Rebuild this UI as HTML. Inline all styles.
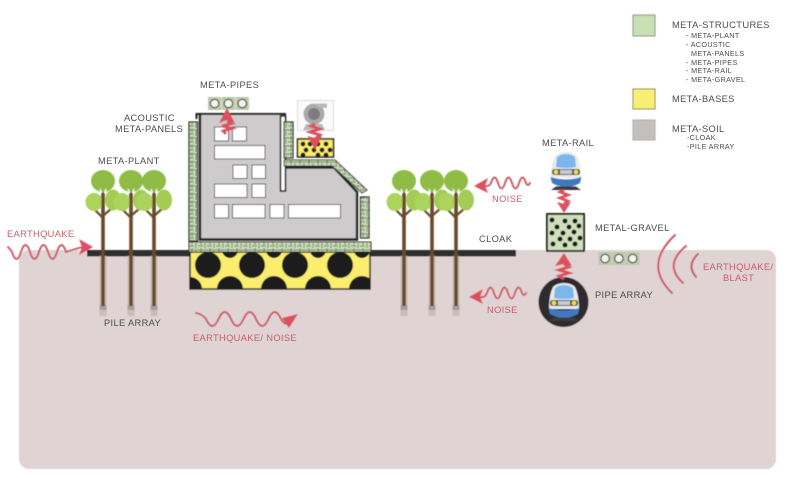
<!DOCTYPE html>
<html><head><meta charset="utf-8"><style>
html,body{margin:0;padding:0;background:#fff;width:792px;height:478px;overflow:hidden}
svg{display:block}
text{font-family:"Liberation Sans",sans-serif;font-size:9.3px;fill:#4d4d4d;letter-spacing:.35px}
.r{fill:#c9606a}
.s{font-size:7.2px;fill:#4d4d4d}
</style></head><body>
<svg width="792" height="478" viewBox="0 0 792 478" xmlns="http://www.w3.org/2000/svg">
<defs>
<filter id="b" x="-5%" y="-5%" width="110%" height="110%"><feGaussianBlur stdDeviation="0.45"/></filter>
<filter id="t" x="-5%" y="-5%" width="110%" height="110%"><feGaussianBlur stdDeviation="0.25"/></filter>
<pattern id="hatch" width="9" height="8" patternUnits="userSpaceOnUse">
<rect width="9" height="8" fill="#c9dcb6"/><path d="M0 2H9M3 0V5M7 3V8M0 6H5" stroke="#56634c" stroke-width=".7" fill="none"/>
</pattern>
<g id="tree">
<rect x="-3.500" y="6" width="7" height="60" fill="#c9bcb9"/>
<rect x="-3.500" y="55" width="7" height="5" fill="#a89c98"/>
<path d="M0 -58V56" stroke="#6b4a2c" stroke-width="3.600"/>
<path d="M-1 -33L-9 -41M1 -35L9 -42" stroke="#6b4a2c" stroke-width="2.200" fill="none"/>
<ellipse cx="0" cy="-69" rx="12" ry="11" fill="#8fbc45"/>
<ellipse cx="-9" cy="-48" rx="8.500" ry="9" fill="#acd35c"/>
<ellipse cx="10" cy="-50" rx="8" ry="10.500" fill="#a4cc55"/>
<path d="M-1 -56L-3 -61M1 -56L3 -61" stroke="#fff" stroke-width="1.200"/>
<path d="M0 -57V-40" stroke="#6b4a2c" stroke-width="3.200"/>
</g>
<g id="pipes">
<rect x="0" y="0" width="13.300" height="13" fill="#bcc9aa"/><rect x="13.800" y="0" width="13.300" height="13" fill="#bcc9aa"/><rect x="27.600" y="0" width="13.300" height="13" fill="#bcc9aa"/>
<circle cx="6.600" cy="6.500" r="4.200" fill="#f4f4ee" stroke="#2b2b2b" stroke-width="1.100"/><circle cx="20.400" cy="6.500" r="4.200" fill="#f4f4ee" stroke="#2b2b2b" stroke-width="1.100"/><circle cx="34.200" cy="6.500" r="4.200" fill="#f4f4ee" stroke="#2b2b2b" stroke-width="1.100"/>
</g>
<g id="train">
<path d="M-15 10Q-15 -4 -11 -12Q-7 -16 0 -16Q7 -16 11 -12Q15 -4 15 10Z" fill="#e9eaed"/>
<path d="M-10 -1L-9 -11Q-5 -14 0 -14Q5 -14 9 -11L10 -1Q0 1 -10 -1Z" fill="#7cb6ea"/>
<rect x="-14" y="1" width="28" height="6" rx="2.500" fill="#4a4e55"/>
<circle cx="-10" cy="4" r="2.300" fill="#f2e03a"/><circle cx="10" cy="4" r="2.300" fill="#f2e03a"/>
<rect x="-6" y="2" width="12" height="4" fill="#c8ccd2"/>
<path d="M-15.500 9Q0 14 15.500 9L14 15Q7 19 0 19Q-7 19 -14 15Z" fill="#3f78c0"/>
<path d="M-10 18.500H10L15 22H-15Z" fill="#3a3a3a"/>
</g>
</defs>
<g filter="url(#b)">
<rect x="19" y="250" width="757" height="219" rx="10" fill="#dfd3d3"/>
<rect x="87" y="250" width="429" height="6.500" fill="#2f2d2d"/>

<use href="#tree" x="103" y="250"/><use href="#tree" x="131" y="250"/><use href="#tree" x="154" y="250"/>
<use href="#tree" x="404" y="250"/><use href="#tree" x="432" y="250"/><use href="#tree" x="456" y="250"/>

<!-- base -->
<rect x="190" y="252" width="180" height="37" fill="#fbee6e" stroke="#1f1f1f" stroke-width="1.500"/>
<clipPath id="bc"><rect x="190" y="252" width="180" height="37"/></clipPath>
<g clip-path="url(#bc)" fill="#1b1b1b">
<circle cx="208" cy="265" r="13"/><circle cx="252" cy="265" r="13"/><circle cx="295" cy="265" r="13"/><circle cx="340" cy="265" r="13"/>
<circle cx="190" cy="289" r="12"/><circle cx="230" cy="289" r="13"/><circle cx="274" cy="289" r="13"/><circle cx="318" cy="289" r="13"/><circle cx="362" cy="289" r="13"/>
<circle cx="230" cy="250" r="8"/><circle cx="274" cy="250" r="8"/><circle cx="318" cy="250" r="8"/><circle cx="362" cy="250" r="8"/>
</g>
<rect x="189" y="242" width="182" height="10" fill="url(#hatch)" stroke="#222" stroke-width="1"/>

<!-- building -->
<path d="M200 115H281V191H285V167H334L356 192V239H200Z" fill="#cdcbcc"/>
<path d="M196.500 119V114H285V119" fill="none" stroke="#222" stroke-width="2"/>
<path d="M200 115V239.500H357V192L334 167.500H285" fill="none" stroke="#222" stroke-width="2.400"/>
<rect x="280.500" y="116" width="5" height="75" fill="#fff" stroke="#222" stroke-width="1.600"/>
<g fill="#fff" stroke="#555" stroke-width="1">
<rect x="214.500" y="127" width="14" height="14"/><rect x="232.500" y="127" width="14" height="14"/>
<rect x="214.500" y="145.500" width="50.500" height="13.500"/>
<rect x="233" y="165" width="14" height="13.500"/><rect x="252" y="165" width="13.500" height="13.500"/>
<rect x="214.500" y="184" width="32.500" height="13.500"/><rect x="252" y="184" width="13.500" height="13.500"/>
<rect x="214.500" y="204.500" width="14" height="13.500"/><rect x="232.500" y="204.500" width="32.500" height="13.500"/><rect x="270" y="204.500" width="14" height="13.500"/><rect x="288.500" y="204.500" width="52" height="13.500"/>
</g>
<g fill="url(#hatch)" stroke="#222" stroke-width="1.200">
<rect x="189" y="122" width="8.500" height="119"/>
<rect x="284" y="122" width="9" height="36"/>
<rect x="360.500" y="197" width="8.500" height="41"/>
</g>
<path d="M284 160H335L367 190L362 193L332 166H284Z" fill="url(#hatch)" stroke="#333" stroke-width="1"/>

<use href="#pipes" x="208" y="97"/>
<!-- fan -->
<rect x="297.500" y="100.500" width="36" height="30" fill="#fafafa" stroke="#ddd"/>
<circle cx="314" cy="114" r="10.500" fill="#a9a9ab"/><circle cx="314" cy="114" r="6" fill="#7d7d80"/>
<path d="M314 103.500H327V108H320ZM306 124H322L325 130H303Z" fill="#b8b8ba"/>
<!-- yellow gravel top -->
<rect x="297.500" y="139" width="36" height="18" fill="#fbee6e" stroke="#1f1f1f" stroke-width="1.500"/>
<g fill="#1b1b1b"><circle cx="303" cy="144" r="2.400"/><circle cx="310" cy="144" r="2.400"/><circle cx="318" cy="144" r="2.400"/><circle cx="326" cy="144" r="2.400"/><circle cx="306" cy="150" r="2.400"/><circle cx="314" cy="150" r="2.400"/><circle cx="322" cy="150" r="2.400"/><circle cx="330" cy="150" r="2.400"/><circle cx="303" cy="155" r="2.400"/><circle cx="318" cy="155" r="2.400"/><circle cx="326" cy="155" r="2.400"/></g>

<!-- gravel -->
<rect x="547" y="214" width="37" height="37" fill="#cfe0bb" stroke="#111" stroke-width="1.800"/>
<g fill="#161616"><circle cx="552" cy="220" r="2.500"/><circle cx="565" cy="221" r="2.500"/><circle cx="575" cy="221" r="2.500"/><circle cx="557" cy="227" r="2.500"/><circle cx="569" cy="227" r="2.500"/><circle cx="579" cy="226" r="2.500"/><circle cx="552" cy="233" r="2.500"/><circle cx="563" cy="233" r="2.500"/><circle cx="574" cy="232" r="2.500"/><circle cx="560" cy="239" r="2.500"/><circle cx="570" cy="239" r="2.500"/><circle cx="580" cy="238" r="2.500"/><circle cx="553" cy="244" r="2.500"/><circle cx="565" cy="245" r="2.500"/><circle cx="575" cy="244" r="2.500"/></g>

<!-- trains -->
<use href="#train" x="566" y="168"/>
<circle cx="563.500" cy="302" r="25" fill="#2e2c2d"/>
<use href="#train" x="564" y="299"/>
<use href="#pipes" x="598.500" y="252"/>

<!-- red vertical arrows -->
<g fill="none" stroke="#dc505d" stroke-width="2.800">
<path d="M226 134L223 131L232 128.500L222 126L232 123.500L227 121"/>
<path d="M315 124L311 126L320 129L310 132L320 135L315 139"/>
<path d="M564 190L560 192L568 195L560 198L568 201L564 204"/>
<path d="M564 279L559 276L569 273L559 270L569 267L564 264"/>
</g>
<path d="M227 108L219 123L227 120L235 123Z" fill="#dc505d"/>
<path d="M315 150L307.500 136L315 138L322 136Z" fill="#dc505d"/>
<path d="M564 213L557 202L564 204L571 202Z" fill="#dc505d"/>
<path d="M564 253L555 266L564 264L572 266Z" fill="#dc505d"/>

<!-- waves -->
<g fill="none" stroke="#cf5560" stroke-width="1.900" stroke-linecap="round">
<path d="M8 247Q10 249 12 252q4.500 14 9 0t9 0t9 0t9 0t9 0t9 0Q78 248 83 247"/>
<path d="M484 186Q489 187 491 183q3.500 -11 7 0t7 0t7 0t7 0t7 0Q528 187 530 183"/>
<path d="M480 297Q485 298 487 293q3.500 -11 7 0t7 0t7 0t7 0t7 0Q524 297 526 293"/>
<path d="M196 313Q202 314 206 319q6.250 14 12.500 0t12.500 0t12.500 0t12.500 0t12.500 0t12.500 0Q285 327 291 321"/>
</g>
<path d="M93 247L79 239L82 247L79 255Z" fill="#dc505d"/>
<path d="M474 186L488 178L485 186L488 193Z" fill="#dc505d"/>
<path d="M469 297L483 289L480 297L483 304Z" fill="#dc505d"/>
<path d="M298 314L282 318L284 321L289 328Z" fill="#dc505d"/>
<g fill="none" stroke="#cf5560" stroke-width="2" stroke-linecap="round">
<path d="M675 235Q643 265 672 293"/>
<path d="M686 246Q663 265 683 283"/>
<path d="M698 254Q686 265 696 277"/>
</g>

<!-- legend -->
<rect x="633" y="15" width="22" height="21" fill="#c9dfb4" stroke="#8a9484" stroke-width="1"/>
<rect x="633" y="89" width="22" height="20" fill="#f8ef72" stroke="#8c8a5a" stroke-width="1"/>
<rect x="633" y="120" width="22" height="20" fill="#c3c0bc" stroke="#b0aeaa" stroke-width="1"/>
</g>

<g filter="url(#t)">
<text x="672" y="28" style="font-size:9.400px">META-STRUCTURES</text>
<text class="s" x="686" y="38">- META-PLANT</text>
<text class="s" x="686" y="47">- ACOUSTIC</text>
<text class="s" x="691" y="56">META-PANELS</text>
<text class="s" x="686" y="65">- META-PIPES</text>
<text class="s" x="686" y="73">- META-RAIL</text>
<text class="s" x="686" y="82">- META-GRAVEL</text>
<text x="672" y="102">META-BASES</text>
<text x="672" y="132">META-SOIL</text>
<text class="s" x="687" y="140">-CLOAK</text>
<text class="s" x="687" y="149">-PILE ARRAY</text>

<text x="200" y="88">META-PIPES</text>
<text x="124" y="121">ACOUSTIC</text>
<text x="115" y="132">META-PANELS</text>
<text x="98" y="164">META-PLANT</text>
<text x="542" y="146">META-RAIL</text>
<text x="595" y="231">METAL-GRAVEL</text>
<text x="595" y="298">PIPE ARRAY</text>
<text x="479" y="242">CLOAK</text>
<text x="104" y="326">PILE ARRAY</text>
<text class="r" x="7" y="237">EARTHQUAKE</text>
<text class="r" x="492" y="202">NOISE</text>
<text class="r" x="487" y="313">NOISE</text>
<text class="r" x="193" y="341">EARTHQUAKE/ NOISE</text>
<text class="r" x="703" y="270">EARTHQUAKE/</text>
<text class="r" x="723" y="281">BLAST</text>
</g>
</svg>
</body></html>
